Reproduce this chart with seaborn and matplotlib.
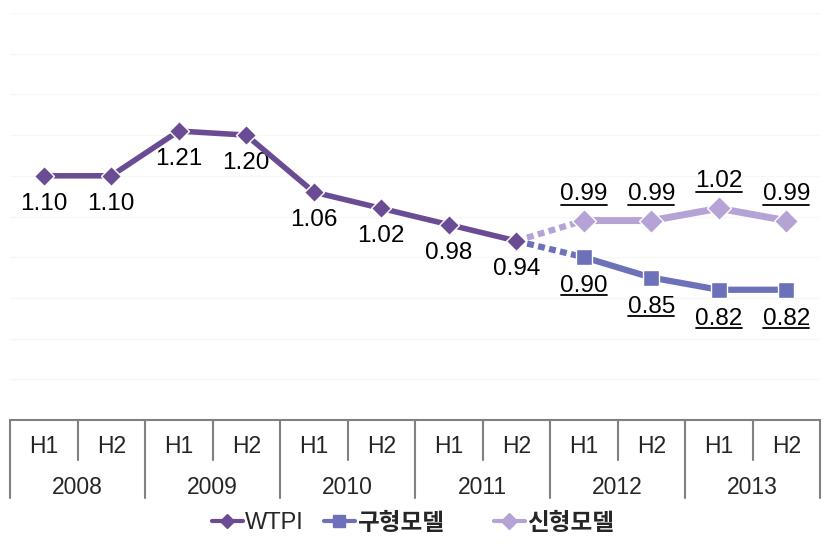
import pandas as pd
import seaborn as sns
import matplotlib.pyplot as plt
from matplotlib.transforms import offset_copy
from matplotlib.lines import Line2D

# Data
halves = ['H1', 'H2'] * 6
years = ['2008', '2009', '2010', '2011', '2012', '2013']
wtpi = [1.10, 1.10, 1.21, 1.20, 1.06, 1.02, 0.98, 0.94]
old_model = [0.90, 0.85, 0.82, 0.82]   # 구형모델, 2012 H1 ~ 2013 H2
new_model = [0.99, 0.99, 1.02, 0.99]   # 신형모델, 2012 H1 ~ 2013 H2
series_names = ['WTPI', '구형모델', '신형모델']

c_wtpi = '#6A4C94'
c_old = '#6C71B9'
c_new = '#B4A3D4'

sns.set_theme(style='white')
plt.rcParams['font.family'] = ['Liberation Sans', 'Noto Sans CJK KR']

fig = plt.figure(figsize=(8.32, 5.53), dpi=100)
ax = fig.add_axes([10 / 832, 133 / 553, 810 / 832, 407 / 553])

df_w = pd.DataFrame({'x': range(len(wtpi)), 'v': wtpi})
df_o = pd.DataFrame({'x': range(8, 8 + len(old_model)), 'v': old_model})
df_n = pd.DataFrame({'x': range(8, 8 + len(new_model)), 'v': new_model})

# dotted connectors from the last WTPI point
df_od = pd.DataFrame({'x': [7, 8], 'v': [wtpi[-1], old_model[0]]})
df_nd = pd.DataFrame({'x': [7, 8], 'v': [wtpi[-1], new_model[0]]})
sns.lineplot(data=df_od, x='x', y='v', ax=ax, color=c_old, lw=4.5,
             linestyle=(0, (1.1, 0.7)), zorder=2)
sns.lineplot(data=df_nd, x='x', y='v', ax=ax, color=c_new, lw=4.5,
             linestyle=(0, (1.1, 0.7)), zorder=2)

sns.lineplot(data=df_n, x='x', y='v', ax=ax, color=c_new, lw=5,
             marker='D', markersize=12, markeredgecolor='white',
             markeredgewidth=1, zorder=3)
sns.lineplot(data=df_o, x='x', y='v', ax=ax, color=c_old, lw=4.5,
             marker='s', markersize=12, markeredgecolor='white',
             markeredgewidth=1, zorder=3)
sns.lineplot(data=df_w, x='x', y='v', ax=ax, color=c_wtpi, lw=4,
             marker='D', markersize=10, markeredgecolor='white',
             markeredgewidth=1, zorder=4)

# value labels
fs = 17.5
for x, v in zip(df_w['x'], df_w['v']):
    ax.annotate(f'{v:.2f}', (x, v), xytext=(0, -28), textcoords='offset pixels',
                ha='center', va='center', fontsize=fs, color='black')

under_below = offset_copy(ax.transData, fig=fig, x=0, y=-38, units='dots')
under_above = offset_copy(ax.transData, fig=fig, x=0, y=16, units='dots')
for x, v in zip(df_o['x'], df_o['v']):
    ax.annotate(f'{v:.2f}', (x, v), xytext=(0, -29), textcoords='offset pixels',
                ha='center', va='center', fontsize=fs, color='black')
    ax.plot([x - 0.34, x + 0.34], [v, v], color='black', lw=1.3,
            transform=under_below, clip_on=False)
for x, v in zip(df_n['x'], df_n['v']):
    ax.annotate(f'{v:.2f}', (x, v), xytext=(0, 27), textcoords='offset pixels',
                ha='center', va='center', fontsize=fs, color='black')
    ax.plot([x - 0.34, x + 0.34], [v, v], color='black', lw=1.3,
            transform=under_above, clip_on=False)

ax.set_xlim(-0.5, 11.5)
ax.set_ylim(0.5, 1.5)
ax.set_yticks([0.6, 0.7, 0.8, 0.9, 1.0, 1.1, 1.2, 1.3, 1.4, 1.5])
ax.yaxis.grid(True, color='#F7F7F7', lw=1)
ax.set_xticks([])
ax.set_yticklabels([])
ax.tick_params(left=False)
ax.set_xlabel('')
ax.set_ylabel('')
for s in ['left', 'right', 'top', 'bottom']:
    ax.spines[s].set_visible(False)

# category table under the plot
tr = ax.get_xaxis_transform()
tc = '#808080'
ax.plot([-0.5, 11.5], [0, 0], color=tc, lw=1.5, transform=tr, clip_on=False)
for i, h in enumerate(halves):
    ax.text(i, -0.066, h, transform=tr, ha='center', va='center', fontsize=16.5)
for i in range(12):
    if i % 2 == 1:
        ax.plot([i - 0.5, i - 0.5], [0, -0.098], color=tc, lw=1.5,
                transform=tr, clip_on=False)
for j, y in enumerate(years):
    ax.text(2 * j + 0.5, -0.165, y, transform=tr, ha='center', va='center',
            fontsize=16.5)
for k in range(7):
    ax.plot([2 * k - 0.5, 2 * k - 0.5], [0, -0.192], color=tc, lw=1.5,
            transform=tr, clip_on=False)

# legend entries, placed one by one like the original
handles = [
    Line2D([], [], color=c_wtpi, lw=3, marker='D', markersize=7),
    Line2D([], [], color=c_old, lw=3, marker='s', markersize=8),
    Line2D([], [], color=c_new, lw=3, marker='D', markersize=8),
]
left_px = [212, 324, 494]
weights = ['normal', 'bold', 'bold']
for h, name, lx, w in zip(handles, series_names, left_px, weights):
    fig.legend([h], [name], loc='center left',
               bbox_to_anchor=(lx / 832, 30 / 553), frameon=False,
               prop={'size': 17, 'weight': w}, handlelength=1.3,
               handletextpad=0.1, borderpad=0, borderaxespad=0)

fig.savefig('out.png', dpi=100)
